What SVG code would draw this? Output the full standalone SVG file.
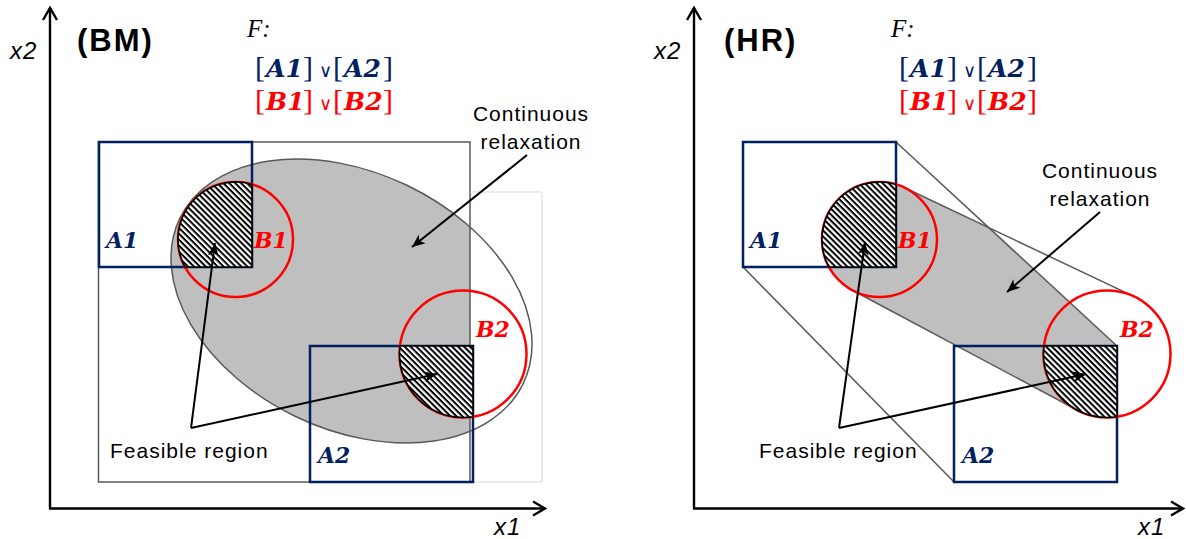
<svg xmlns="http://www.w3.org/2000/svg" width="1186" height="539" viewBox="0 0 1186 539">
<style>
.axis{stroke:#000;stroke-width:2.4;fill:none}
.hull{stroke:#595959;stroke-width:1.5;fill:none}
.abox{stroke:#002060;stroke-width:2.5;fill:none}
.bcirc{stroke:#FF0000;stroke-width:2.5;fill:none}
.hatch{fill:url(#hatch);stroke:#000;stroke-width:1.6}
.arr{stroke:#000;stroke-width:2;fill:none;marker-end:url(#fill)}
.lbl{font-family:"Liberation Sans",Arial,sans-serif;font-size:21px;letter-spacing:1px;fill:#000}
.ax{font-family:"Liberation Sans",Arial,sans-serif;font-size:24px;font-style:italic;letter-spacing:1px;fill:#000}
.ttl{font-family:"Liberation Sans",Arial,sans-serif;font-size:31px;font-weight:bold;letter-spacing:2px;fill:#000}
.math{font-family:"DejaVu Serif",serif;font-size:22px;font-weight:bold;font-style:italic}
.fm{font-family:"DejaVu Serif",serif;font-size:25px;font-weight:bold;font-style:italic}
.br{font-family:"Liberation Serif",serif;font-size:30px;font-weight:normal;font-style:normal}
.or{font-family:"DejaVu Sans",sans-serif;font-size:18px;font-weight:normal;font-style:normal}
.F{font-family:"Liberation Serif",serif;font-size:25px;font-style:italic;fill:#000}
.navy{fill:#002060}
.red{fill:#FF0000}
</style>
<defs>
<pattern id="hatch" width="4.2" height="4.2" patternUnits="userSpaceOnUse" patternTransform="rotate(45)">
<rect width="4.2" height="4.2" fill="#fff"/>
<rect width="4.2" height="2" fill="#000"/>
</pattern>
<marker id="open" markerUnits="userSpaceOnUse" markerWidth="20" markerHeight="20" refX="0" refY="0" orient="auto" overflow="visible">
<path d="M-12,-7 L0,0 L-12,7" fill="none" stroke="#000" stroke-width="2.4"/>
</marker>
<marker id="fill" markerUnits="userSpaceOnUse" markerWidth="20" markerHeight="20" refX="0" refY="0" orient="auto" overflow="visible">
<path d="M-13,-5.5 L0,0 L-13,5.5 L-9.5,0 Z" fill="#000"/>
</marker>
<clipPath id="bmClip"><rect x="98.5" y="142" width="371.5" height="340"/></clipPath>
<clipPath id="hrClip"><polygon points="743,142 896,142 1117,346 1117,482 954,482 743,267"/></clipPath>
</defs>

<!-- ===== BM panel ===== -->
<g id="bm-relaxation">
<g clip-path="url(#bmClip)">
<ellipse cx="351.5" cy="301" rx="190.5" ry="128.3" transform="rotate(25.6 351.5 301)" fill="#BFBFBF"/>
</g>
<rect x="98.5" y="142" width="371.5" height="340" fill="none" stroke="#595959" stroke-width="1.5"/>
<polyline points="470,192 542,192 542,482 470,482" fill="none" stroke="#D9D9D9" stroke-width="1"/>
<ellipse cx="351.5" cy="301" rx="190.5" ry="128.3" transform="rotate(25.6 351.5 301)" fill="none" stroke="#595959" stroke-width="1.5"/>
</g>
<g id="bm-A1"><rect class="abox" x="99" y="142" width="153" height="125"/><text class="math navy" x="106" y="248">A1</text></g>
<g id="bm-A2"><rect class="abox" x="310" y="346" width="163" height="136"/><text class="math navy" x="318" y="463">A2</text></g>
<g id="bm-B1"><circle class="bcirc" cx="235.5" cy="239.5" r="57.5"/><text class="math red" x="254" y="248">B1</text></g>
<g id="bm-B2"><circle class="bcirc" cx="463" cy="354" r="63.5"/><text class="math red" x="476" y="337">B2</text></g>
<g id="bm-feasible">
<path class="hatch" d="M252,184.4 A57.5,57.5 0 0 0 185,267 L252,267 Z"/>
<path class="hatch" d="M400,346 L473,346 L473,416.7 A63.5,63.5 0 0 1 400,346 Z"/>
</g>

<!-- ===== HR panel ===== -->
<g id="hr-relaxation">
<path d="M904.13,187.55 L1134.2,296.6 A63.5,63.5 0 1 1 1077.12,410.03 L852.45,290.24 A57.5,57.5 0 0 1 904.13,187.55 Z" fill="#BFBFBF" clip-path="url(#hrClip)"/>
<line class="hull" x1="896" y1="142" x2="1117" y2="346"/>
<line class="hull" x1="743" y1="267" x2="954" y2="482"/>
<line class="hull" x1="904.13" y1="187.55" x2="1134.2" y2="296.6"/>
<line class="hull" x1="852.45" y1="290.24" x2="1077.12" y2="410.03"/>
</g>
<g id="hr-A1"><rect class="abox" x="743" y="142" width="153" height="125"/><text class="math navy" x="750" y="248">A1</text></g>
<g id="hr-A2"><rect class="abox" x="954" y="346" width="163" height="136"/><text class="math navy" x="962" y="463">A2</text></g>
<g id="hr-B1"><circle class="bcirc" cx="879.5" cy="239.5" r="57.5"/><text class="math red" x="898" y="248">B1</text></g>
<g id="hr-B2"><circle class="bcirc" cx="1107" cy="354" r="63.5"/><text class="math red" x="1120" y="337">B2</text></g>
<g id="hr-feasible">
<path class="hatch" d="M896,184.4 A57.5,57.5 0 0 0 829,267 L896,267 Z"/>
<path class="hatch" d="M1044,346 L1117,346 L1117,416.7 A63.5,63.5 0 0 1 1044,346 Z"/>
</g>

<!-- ===== connectors ===== -->
<g id="connectors">
<line class="axis" x1="50" y1="509" x2="50" y2="8" marker-end="url(#open)"/>
<line class="axis" x1="49" y1="508.5" x2="545" y2="508.5" marker-end="url(#open)"/>
<line class="axis" x1="694" y1="509" x2="694" y2="8" marker-end="url(#open)"/>
<line class="axis" x1="693" y1="508.5" x2="1183" y2="508.5" marker-end="url(#open)"/>
<line class="arr" x1="527" y1="155" x2="412" y2="247"/>
<line class="arr" x1="191" y1="428" x2="215" y2="243"/>
<line class="arr" x1="191" y1="428" x2="437" y2="374"/>
<line class="arr" x1="1100" y1="212" x2="1007" y2="292"/>
<line class="arr" x1="839" y1="428" x2="865" y2="242"/>
<line class="arr" x1="839" y1="428" x2="1086" y2="374"/>
</g>

<!-- ===== labels ===== -->
<g id="bm-labels">
<text class="ax" x="10" y="59">x2</text>
<text class="ax" x="494" y="535">x1</text>
<text class="ttl" x="77" y="51">(BM)</text>
<text class="F" x="247" y="37">F:</text>
<text class="navy" y="77"><tspan class="br" x="255">[</tspan><tspan class="fm" x="266">A1</tspan><tspan class="br" x="303">]</tspan><tspan class="or" x="319">∨</tspan><tspan class="br" x="333">[</tspan><tspan class="fm" x="344">A2</tspan><tspan class="br" x="383">]</tspan></text>
<text class="red" y="110"><tspan class="br" x="255">[</tspan><tspan class="fm" x="266">B1</tspan><tspan class="br" x="303">]</tspan><tspan class="or" x="319">∨</tspan><tspan class="br" x="333">[</tspan><tspan class="fm" x="344">B2</tspan><tspan class="br" x="383">]</tspan></text>
<text class="lbl" x="531" y="121" text-anchor="middle">Continuous</text>
<text class="lbl" x="531" y="149" text-anchor="middle">relaxation</text>
<text class="lbl" x="110" y="458">Feasible region</text>
</g>
<g id="hr-labels">
<text class="ax" x="654" y="59">x2</text>
<text class="ax" x="1138" y="535">x1</text>
<text class="ttl" x="724" y="51">(HR)</text>
<text class="F" x="891" y="37">F:</text>
<text class="navy" y="77"><tspan class="br" x="899">[</tspan><tspan class="fm" x="910">A1</tspan><tspan class="br" x="947">]</tspan><tspan class="or" x="963">∨</tspan><tspan class="br" x="977">[</tspan><tspan class="fm" x="988">A2</tspan><tspan class="br" x="1027">]</tspan></text>
<text class="red" y="110"><tspan class="br" x="899">[</tspan><tspan class="fm" x="910">B1</tspan><tspan class="br" x="947">]</tspan><tspan class="or" x="963">∨</tspan><tspan class="br" x="977">[</tspan><tspan class="fm" x="988">B2</tspan><tspan class="br" x="1027">]</tspan></text>
<text class="lbl" x="1100" y="178" text-anchor="middle">Continuous</text>
<text class="lbl" x="1100" y="206" text-anchor="middle">relaxation</text>
<text class="lbl" x="759" y="458">Feasible region</text>
</g>
</svg>
